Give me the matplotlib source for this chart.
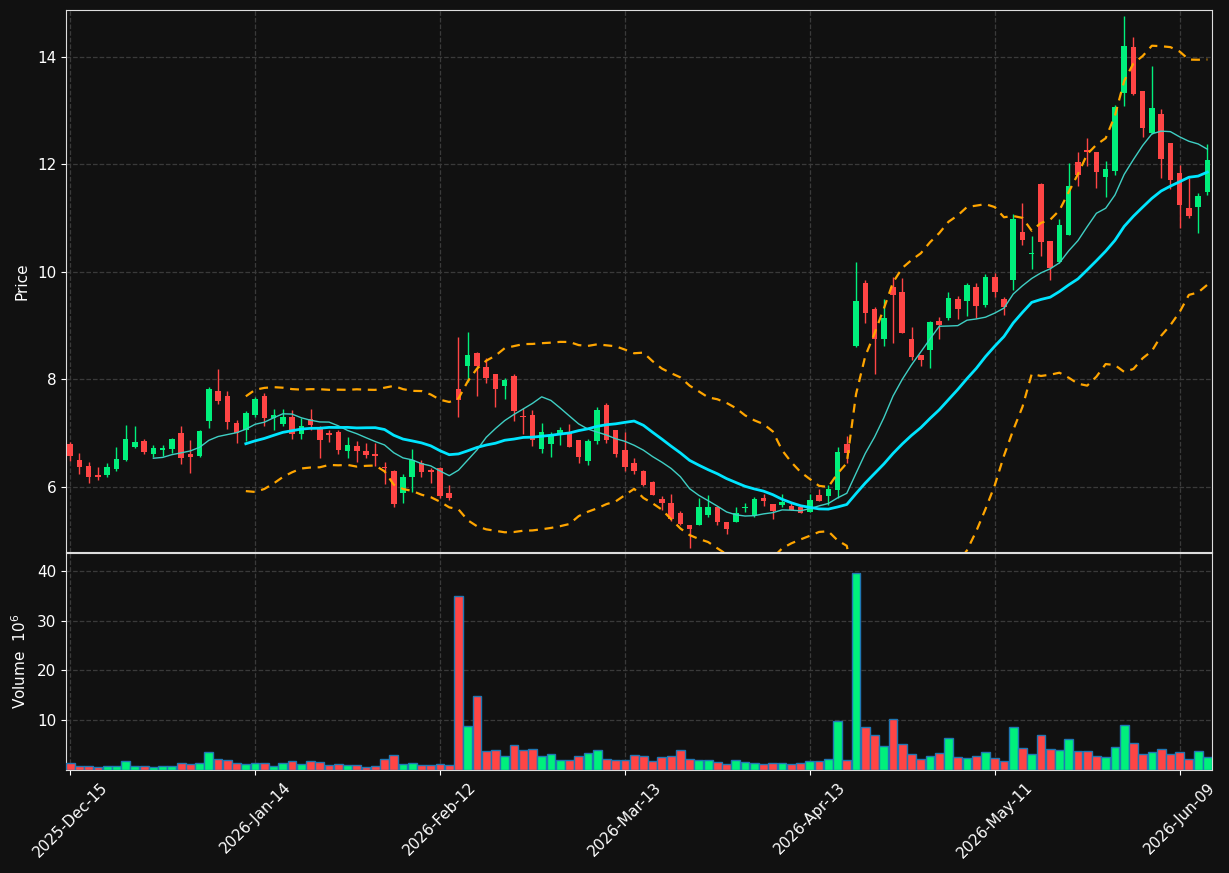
import numpy as np
import pandas as pd
import matplotlib
matplotlib.use("Agg")
import matplotlib.pyplot as plt

# ---------------- data ----------------
start_date = "2025-12-15"
n_bars = 124
holidays = ["2025-12-25", "2026-01-01", "2026-01-19", "2026-02-16", "2026-04-03", "2026-05-25"]

opens = [6.80, 6.50, 6.39, 6.22, 6.22, 6.34, 6.50, 6.74, 6.86, 6.62,
         6.68, 6.71, 7.00, 6.61, 6.58, 7.23, 7.79, 7.69, 7.19, 7.05,
         7.34, 7.69, 7.29, 7.17, 7.30, 6.99, 7.26, 7.11, 7.01, 7.02,
         6.66, 6.76, 6.67, 6.61, 6.37, 6.30, 5.88, 6.19, 6.44, 6.32,
         6.36, 5.89, 7.82, 8.24, 8.50, 8.23, 8.10, 7.88, 8.07, 7.32,
         7.34, 6.71, 6.80, 7.01, 7.02, 6.87, 6.49, 6.86, 7.53, 7.06,
         6.69, 6.44, 6.30, 6.09, 5.78, 5.70, 5.52, 5.29, 5.30, 5.48,
         5.62, 5.35, 5.34, 5.60, 5.48, 5.80, 5.68, 5.66, 5.65, 5.63,
         5.54, 5.85, 5.83, 5.94, 6.80, 8.63, 9.80, 9.31, 8.75, 9.71,
         9.62, 8.75, 8.45, 8.54, 9.09, 9.15, 9.49, 9.45, 9.71, 9.39,
         9.90, 9.49, 9.84, 10.75, 10.34, 11.64, 10.58, 10.19, 10.69, 12.04,
         12.27, 12.23, 11.77, 11.88, 13.32, 14.18, 13.37, 12.59, 12.94, 12.39,
         11.84, 11.18, 11.20, 11.48]
highs = [6.84, 6.63, 6.47, 6.37, 6.44, 6.74, 7.15, 7.13, 6.89, 6.78,
         6.78, 6.91, 7.13, 6.87, 7.06, 7.85, 8.19, 7.79, 7.25, 7.41,
         7.68, 7.74, 7.45, 7.45, 7.43, 7.28, 7.45, 7.14, 7.05, 7.06,
         6.92, 6.86, 6.81, 6.81, 6.46, 6.31, 6.24, 6.71, 6.50, 6.35,
         6.38, 6.03, 8.78, 8.89, 8.51, 8.39, 8.10, 8.02, 8.10, 7.46,
         7.43, 7.18, 7.02, 7.12, 7.17, 6.87, 6.89, 7.48, 7.56, 7.06,
         7.02, 6.53, 6.32, 6.11, 5.83, 5.86, 5.55, 5.29, 5.79, 5.85,
         5.62, 5.35, 5.63, 5.70, 5.82, 5.87, 5.68, 5.86, 5.70, 5.63,
         5.87, 5.97, 6.04, 6.74, 6.94, 10.19, 9.85, 9.34, 9.49, 9.91,
         9.88, 8.97, 8.45, 9.08, 9.16, 9.62, 9.56, 9.79, 9.79, 9.96,
         9.97, 9.54, 11.08, 11.28, 10.67, 11.66, 10.58, 10.98, 12.02, 12.23,
         12.49, 12.23, 12.07, 13.11, 14.76, 14.37, 13.37, 13.82, 13.03, 12.39,
         11.99, 11.74, 11.46, 12.38]
lows = [6.49, 6.24, 6.07, 6.12, 6.18, 6.29, 6.49, 6.73, 6.61, 6.55,
        6.58, 6.64, 6.43, 6.25, 6.55, 7.09, 7.54, 7.07, 6.81, 6.86,
        7.30, 7.14, 7.05, 7.14, 6.89, 6.90, 7.05, 6.53, 6.84, 6.61,
        6.53, 6.47, 6.54, 6.39, 6.05, 5.63, 5.71, 5.90, 6.19, 6.08,
        5.80, 5.76, 7.30, 7.96, 7.70, 7.94, 7.48, 7.63, 7.22, 6.99,
        6.76, 6.63, 6.56, 6.78, 6.75, 6.45, 6.40, 6.79, 6.82, 6.56,
        6.29, 6.24, 6.02, 5.85, 5.57, 5.36, 5.30, 4.86, 5.30, 5.45,
        5.29, 5.12, 5.34, 5.54, 5.44, 5.65, 5.40, 5.62, 5.57, 5.51,
        5.54, 5.73, 5.66, 5.79, 6.44, 8.61, 9.04, 8.10, 8.63, 8.67,
        8.86, 8.36, 8.24, 8.21, 8.75, 9.11, 9.12, 9.17, 9.14, 9.34,
        9.54, 9.20, 9.67, 10.50, 10.05, 10.30, 9.84, 10.16, 10.69, 11.59,
        11.96, 11.56, 11.39, 11.80, 13.08, 13.29, 12.50, 12.57, 11.74, 11.54,
        10.81, 11.00, 10.72, 11.43]
closes = [6.58, 6.38, 6.19, 6.19, 6.37, 6.52, 6.89, 6.84, 6.65, 6.73,
          6.73, 6.89, 6.53, 6.55, 7.04, 7.82, 7.60, 7.20, 7.00, 7.38,
          7.64, 7.28, 7.34, 7.30, 6.99, 7.13, 7.15, 6.88, 6.97, 6.69,
          6.78, 6.67, 6.60, 6.58, 6.36, 5.68, 6.19, 6.51, 6.27, 6.28,
          5.83, 5.80, 7.62, 8.46, 8.24, 8.03, 7.82, 7.99, 7.41, 7.30,
          6.87, 7.02, 6.95, 7.05, 6.75, 6.56, 6.86, 7.43, 6.87, 6.61,
          6.38, 6.29, 6.04, 5.85, 5.71, 5.40, 5.32, 5.21, 5.62, 5.63,
          5.35, 5.22, 5.51, 5.62, 5.78, 5.73, 5.55, 5.72, 5.57, 5.51,
          5.76, 5.73, 5.96, 6.65, 6.64, 9.46, 9.24, 8.75, 9.14, 9.57,
          8.87, 8.42, 8.36, 9.06, 9.01, 9.51, 9.31, 9.76, 9.37, 9.90,
          9.63, 9.35, 10.98, 10.60, 10.36, 10.55, 10.07, 10.87, 11.60, 11.80,
          12.22, 11.85, 11.91, 13.06, 14.20, 13.31, 12.68, 13.04, 12.10, 11.71,
          11.25, 11.03, 11.41, 12.08]
volumes = [1.4, 0.73, 0.73, 0.53, 0.73, 0.73, 1.8, 0.73, 0.73, 0.53,
           0.73, 0.73, 1.4, 1.2, 1.4, 3.6, 2.2, 2.0, 1.4, 1.2,
           1.4, 1.4, 0.73, 1.4, 1.8, 1.2, 1.8, 1.6, 1.0, 1.2,
           1.0, 1.0, 0.53, 0.73, 2.2, 3.0, 1.2, 1.4, 1.0, 1.0,
           1.2, 0.93, 35.0, 8.8, 14.8, 3.8, 4.0, 2.8, 5.0, 4.0,
           4.2, 2.8, 3.2, 2.0, 2.0, 2.8, 3.4, 4.0, 2.2, 2.0,
           2.0, 3.0, 2.8, 1.8, 2.6, 2.8, 4.0, 2.2, 2.0, 2.0,
           1.6, 1.2, 2.0, 1.6, 1.4, 1.2, 1.4, 1.4, 1.2, 1.4,
           1.8, 1.8, 2.2, 9.8, 2.0, 39.6, 8.6, 7.0, 4.8, 10.2,
           5.2, 3.2, 2.2, 2.8, 3.4, 6.4, 2.6, 2.4, 2.8, 3.6,
           2.4, 1.8, 8.6, 4.4, 3.2, 7.0, 4.2, 4.0, 6.2, 3.8,
           3.8, 2.8, 2.6, 4.6, 9.0, 5.4, 3.2, 3.6, 4.2, 3.2,
           3.6, 2.2, 3.8, 2.6]
mav_short = 10
mav_long = 20
bb_std = 2.0
tick_step = 20

# ---------------- derived ----------------
dates = pd.bdate_range(start=start_date, periods=n_bars + 10, freq="C",
                       holidays=holidays)[:n_bars]
o = np.array(opens); h = np.array(highs); l = np.array(lows); c = np.array(closes)
v = np.array(volumes)
x = np.arange(len(c))
cs = pd.Series(c)
ma_s = cs.rolling(mav_short).mean()
ma_l = cs.rolling(mav_long).mean()
sd = cs.rolling(mav_long).std()
bb_up = ma_l + bb_std * sd
bb_lo = ma_l - bb_std * sd

up_col = "#00f07c"
dn_col = "#ff4545"
bg = "#111111"
cols = np.where(c >= o, up_col, dn_col)

fig = plt.figure(figsize=(12.29, 8.73), dpi=100, facecolor=bg)
L, R = 66 / 1229, 1212 / 1229
ax = fig.add_axes([L, 1 - 552 / 873, R - L, (552 - 10) / 873], facecolor=bg)
axv = fig.add_axes([L, 1 - 770 / 873, R - L, (770 - 553) / 873], facecolor=bg, sharex=ax)

# candles
ax.vlines(x, l, h, colors=cols, linewidth=1.0, zorder=2)
body_bottom = np.minimum(o, c)
body_h = np.maximum(np.abs(c - o), 0.02)
ax.bar(x, body_h, bottom=body_bottom, width=0.6, color=cols, linewidth=0, zorder=3)

# moving averages & bands
ax.plot(x, ma_s, color="#3fcfc4", linewidth=1.0, zorder=4)
ax.plot(x, ma_l, color="#00e5ff", linewidth=2.0, zorder=4)
ax.plot(x, bb_up, color="#ffa500", linewidth=1.6, linestyle="--", dashes=(4, 3), zorder=4)
ax.plot(x, bb_lo, color="#ffa500", linewidth=1.6, linestyle="--", dashes=(4, 3), zorder=4)

# volume
axv.bar(x, v, width=0.95, color=cols, edgecolor="#1f77b4", linewidth=1.0, zorder=3)

ax.set_xlim(-0.45, len(c) - 0.5)
ax.set_ylim(4.79, 14.87)
axv.set_ylim(0, 43.6)
ax.set_yticks([6, 8, 10, 12, 14])
axv.set_yticks([10, 20, 30, 40])

ticks = list(range(0, len(c), tick_step))
axv.set_xticks(ticks)
axv.set_xticklabels([dates[i].strftime("%Y-%b-%d") for i in ticks], rotation=45)
plt.setp(ax.get_xticklabels(), visible=False)

for a in (ax, axv):
    a.grid(True, color="#3a3a3a", linestyle="--", linewidth=0.9, zorder=0)
    a.set_axisbelow(True)
    for s in a.spines.values():
        s.set_color("#dddddd")
    a.tick_params(colors="white", labelsize=11)
ax.tick_params(axis="x", length=0)

ax.set_ylabel("Price", color="white", fontsize=11)
axv.set_ylabel("Volume  $10^{6}$", color="white", fontsize=11)
ax.yaxis.set_label_coords(-0.032, 0.5)
axv.yaxis.set_label_coords(-0.032, 0.5)

fig.savefig("out.png", dpi=100, facecolor=bg)
